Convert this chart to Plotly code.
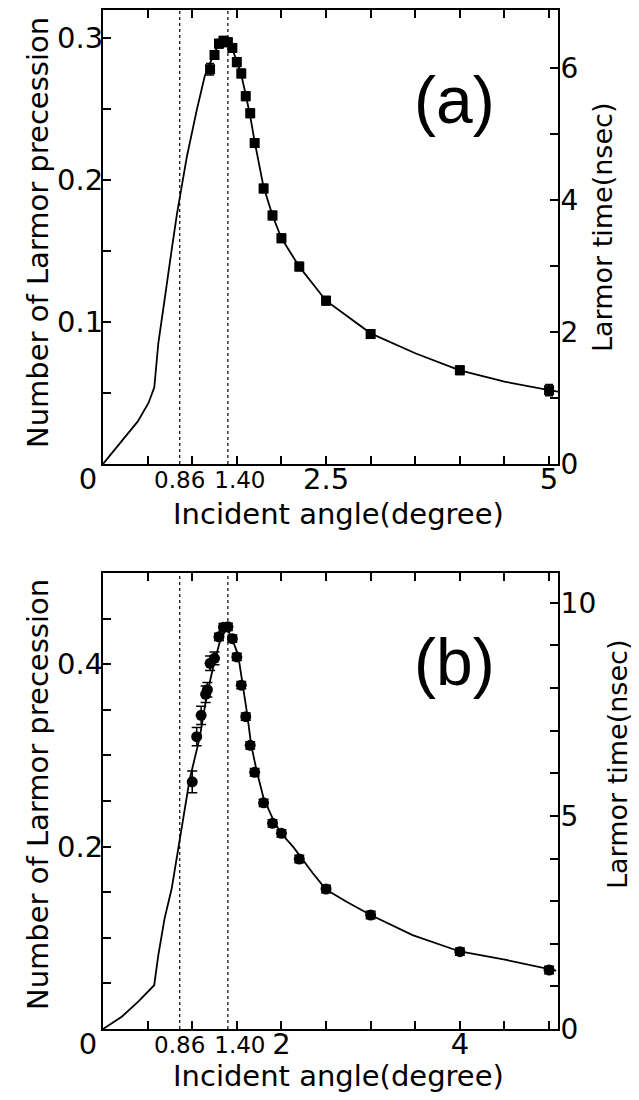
import plotly.graph_objects as go

W, H = 639, 1100
OFF = 8  # the page body adds an 8px margin around the figure

# ---------------- panel (a) ----------------
a_curve_x = [0, 0.19, 0.39, 0.51, 0.575, 0.62, 0.66, 0.69, 0.77, 0.83, 0.94, 1.05, 1.14, 1.2, 1.25,
             1.3, 1.35, 1.40, 1.45, 1.5, 1.55, 1.6, 1.65, 1.7, 1.8, 1.9, 2.0, 2.2, 2.5, 3.0, 3.5,
             4.0, 4.5, 5.0, 5.1]
a_curve_y = [0, 0.0146, 0.030, 0.043, 0.054, 0.085, 0.104, 0.1155, 0.151, 0.1765, 0.2164, 0.249,
             0.273, 0.282, 0.290, 0.295, 0.2985, 0.297, 0.292, 0.284, 0.274, 0.260, 0.245, 0.227,
             0.195, 0.175, 0.159, 0.139, 0.115, 0.092, 0.078, 0.066, 0.058, 0.052, 0.051]
a_x = [1.2, 1.25, 1.3, 1.35, 1.4, 1.45, 1.5, 1.55, 1.6, 1.65, 1.7, 1.8, 1.9, 2.0, 2.2, 2.5, 3.0, 4.0, 5.0]
a_y = [0.278, 0.288, 0.296, 0.298, 0.297, 0.293, 0.283, 0.275, 0.259, 0.247, 0.226, 0.194, 0.175,
       0.159, 0.139, 0.115, 0.0915, 0.066, 0.052]
a_err = [0.004, 0.003, 0.003, 0.003, 0.003, 0.003, 0.003, 0.003, 0.003, 0.003, 0.003, 0.003, 0.003,
         0.003, 0.003, 0.003, 0.003, 0.003, 0.004]

# ---------------- panel (b) ----------------
b_curve_x = [0, 0.21, 0.395, 0.574, 0.62, 0.69, 0.77, 0.86, 0.97, 1.085, 1.16, 1.235, 1.31, 1.385,
             1.44, 1.515, 1.57, 1.615, 1.66, 1.72, 1.80, 1.91, 2.0, 2.13, 2.35, 2.5, 2.73, 3.0, 3.47,
             4.0, 4.52, 5.0, 5.08]
b_curve_y = [0, 0.0135, 0.030, 0.048, 0.081, 0.121, 0.154, 0.206, 0.273, 0.32, 0.364, 0.397, 0.425,
             0.4395, 0.43, 0.41, 0.377, 0.346, 0.312, 0.284, 0.253, 0.229, 0.214, 0.2, 0.171, 0.153,
             0.1396, 0.125, 0.103, 0.085, 0.0757, 0.065, 0.064]
b_x = [1.0, 1.05, 1.1, 1.15, 1.17, 1.2, 1.25, 1.3, 1.35, 1.4, 1.45, 1.5, 1.55, 1.6, 1.65, 1.7, 1.8,
       1.9, 2.0, 2.2, 2.5, 3.0, 4.0, 5.0]
b_y = [0.271, 0.3205, 0.344, 0.367, 0.372, 0.401, 0.4065, 0.43, 0.4405, 0.441, 0.428, 0.408, 0.377,
       0.3425, 0.311, 0.2815, 0.248, 0.2255, 0.2146, 0.1864, 0.1535, 0.125, 0.0848, 0.0647]
b_err = [0.012, 0.010, 0.010, 0.009, 0.008, 0.008, 0.007, 0.004, 0.004, 0.004, 0.004, 0.004, 0.004,
         0.004, 0.004, 0.004, 0.004, 0.004, 0.004, 0.004, 0.004, 0.004, 0.004, 0.004]

ref_lines = [0.86, 1.40]

# axis ranges / ticks
x_range = [0, 5.1]
a_left_range = [0, 0.3197]
a_right_range = [0, 6.879]
b_left_range = [0, 0.5]
b_right_range = [0, 10.7]

a_left_ticks = [0, 0.05, 0.1, 0.15, 0.2, 0.25, 0.3]
a_left_text = ["", "", "0.1", "", "0.2", "", "0.3"]
a_right_ticks = [0, 1, 2, 3, 4, 5, 6]
a_right_text = ["0", "", "2", "", "4", "", "6"]
b_left_ticks = [0, 0.05, 0.1, 0.15, 0.2, 0.25, 0.3, 0.35, 0.4, 0.45]
b_left_text = ["", "", "", "", "0.2", "", "", "", "0.4", ""]
b_right_ticks = [0, 1, 2, 3, 4, 5, 6, 7, 8, 9, 10]
b_right_text = ["0", "", "", "", "", "5", "", "", "", "", "10"]

a_xlabels = [2.5, 5]
a_xtext = ["2.5", "5"]
b_xlabels = [2, 4]
b_xtext = ["2", "4"]
zero_label = [0]
zero_text = ["0"]

FONT = "DejaVu Sans"
BIG = "Liberation Sans"


def px_x(p):
    return (p - OFF) / W


def px_y(p):
    return 1 - (p - OFF) / H


XDOM = [px_x(103), px_x(558)]
A_DOM = [px_y(464), px_y(10)]
B_DOM = [px_y(1029), px_y(573)]

fig = go.Figure()

# panel a traces
fig.add_trace(go.Scatter(x=a_curve_x, y=a_curve_y, mode="lines", line=dict(color="black", width=1.8),
                         xaxis="x", yaxis="y", showlegend=False))
fig.add_trace(go.Scatter(x=a_x, y=a_y, mode="markers",
                         marker=dict(symbol="square", size=10, color="black"),
                         error_y=dict(type="data", array=a_err, color="black", thickness=1.5, width=4),
                         xaxis="x", yaxis="y", showlegend=False))
# panel b traces
fig.add_trace(go.Scatter(x=b_curve_x, y=b_curve_y, mode="lines", line=dict(color="black", width=1.8),
                         xaxis="x6", yaxis="y3", showlegend=False))
fig.add_trace(go.Scatter(x=b_x, y=b_y, mode="markers",
                         marker=dict(symbol="circle", size=11, color="black"),
                         error_y=dict(type="data", array=b_err, color="black", thickness=1.5, width=5),
                         xaxis="x6", yaxis="y3", showlegend=False))

# dotted reference lines
for xv in ref_lines:
    fig.add_shape(type="line", xref="x", yref="y domain", x0=xv, x1=xv, y0=0, y1=1,
                  line=dict(color="black", width=1.2, dash="dot"))
    fig.add_shape(type="line", xref="x6", yref="y3 domain", x0=xv, x1=xv, y0=0, y1=1,
                  line=dict(color="black", width=1.2, dash="dot"))

tickfont = dict(family=FONT, size=29, color="black")
xtickfont = dict(family=FONT, size=29, color="black")
smallfont = dict(family=FONT, size=23, color="black")


def base_x(anchor):
    return dict(domain=XDOM, range=x_range, anchor=anchor, tickmode="linear", tick0=0, dtick=0.5,
                ticks="inside", ticklen=8, tickwidth=1.5, tickcolor="black", showticklabels=False,
                showline=True, linecolor="black", linewidth=2, mirror="ticks", showgrid=False,
                zeroline=False, automargin=False)


def label_x(anchor, over, vals, text, font, shift=0, standoff=-5):
    return dict(domain=XDOM, range=x_range, anchor=anchor, overlaying=over, tickmode="array",
                tickvals=vals, ticktext=text, ticks="", tickfont=font, showline=False,
                showgrid=False, zeroline=False, ticklabelshift=shift, ticklabelstandoff=standoff,
                automargin=False)


def left_y(dom, rng, vals, text, anchor):
    return dict(domain=dom, range=rng, anchor=anchor, tickmode="array", tickvals=vals, ticktext=text,
                ticks="inside", ticklen=8, tickwidth=1.5, tickcolor="black", tickfont=tickfont,
                showline=True, linecolor="black", linewidth=2, showgrid=False, zeroline=False,
                ticklabelstandoff=-8, automargin=False)


def right_y(rng, vals, text, anchor, over):
    return dict(range=rng, anchor=anchor, overlaying=over, side="right", tickmode="array",
                tickvals=vals, ticktext=text, ticks="inside", ticklen=8, tickwidth=1.5,
                tickcolor="black", tickfont=dict(family=FONT, size=28, color="black"),
                showline=True, linecolor="black", linewidth=2, showgrid=False, zeroline=False,
                ticklabelstandoff=-5, automargin=False)


fig.update_layout(
    width=W, height=H, margin=dict(l=0, r=0, t=0, b=0, autoexpand=False),
    paper_bgcolor="white", plot_bgcolor="white", showlegend=False,
    xaxis=base_x("y"),
    xaxis2=label_x("y", "x", a_xlabels, a_xtext, xtickfont),
    xaxis3=label_x("y", "x", [ref_lines[1]], ["1.40"], smallfont, shift=12, standoff=0),
    xaxis4=label_x("y", "x", zero_label, zero_text, xtickfont, shift=-15),
    xaxis5=label_x("y", "x", [ref_lines[0]], ["0.86"], smallfont, standoff=0),
    yaxis=left_y(A_DOM, a_left_range, a_left_ticks, a_left_text, "x"),
    yaxis2=right_y(a_right_range, a_right_ticks, a_right_text, "x", "y"),
    xaxis6=base_x("y3"),
    xaxis7=label_x("y3", "x6", b_xlabels, b_xtext, xtickfont),
    xaxis8=label_x("y3", "x6", [ref_lines[1]], ["1.40"], smallfont, shift=12, standoff=0),
    xaxis9=label_x("y3", "x6", zero_label, zero_text, xtickfont, shift=-15),
    xaxis10=label_x("y3", "x6", [ref_lines[0]], ["0.86"], smallfont, standoff=0),
    yaxis3=left_y(B_DOM, b_left_range, b_left_ticks, b_left_text, "x6"),
    yaxis4=right_y(b_right_range, b_right_ticks, b_right_text, "x6", "y3"),
)

# empty traces so the overlay axes are drawn
for xa, ya in [("x2", "y"), ("x3", "y"), ("x4", "y"), ("x5", "y"), ("x7", "y3"), ("x8", "y3"),
               ("x9", "y3"), ("x10", "y3"), ("x", "y2"), ("x6", "y4")]:
    fig.add_trace(go.Scatter(x=[None], y=[None], xaxis=xa, yaxis=ya, showlegend=False,
                             hoverinfo="skip"))

title_font = dict(family=FONT, size=29, color="black")
rt_font = dict(family=FONT, size=27, color="black")
xt_font = dict(family=FONT, size=29, color="black")
big_font = dict(family=BIG, size=66, color="black")
ann = [
    dict(text="Number of Larmor precession", x=px_x(38), y=px_y(233), textangle=-90, font=title_font),
    dict(text="Larmor time(nsec)", x=px_x(603), y=px_y(228), textangle=-90, font=rt_font),
    dict(text="Incident angle(degree)", x=px_x(338), y=px_y(514), font=xt_font),
    dict(text="(a)", x=px_x(454), y=px_y(100), font=big_font),
    dict(text="Number of Larmor precession", x=px_x(38), y=px_y(795), textangle=-90, font=title_font),
    dict(text="Larmor time(nsec)", x=px_x(617), y=px_y(765), textangle=-90, font=rt_font),
    dict(text="Incident angle(degree)", x=px_x(338), y=px_y(1076), font=xt_font),
    dict(text="(b)", x=px_x(454), y=px_y(662), font=big_font),
]
for a in ann:
    fig.add_annotation(xref="paper", yref="paper", showarrow=False, xanchor="center",
                       yanchor="middle", **a)

fig.write_html("out.html")
